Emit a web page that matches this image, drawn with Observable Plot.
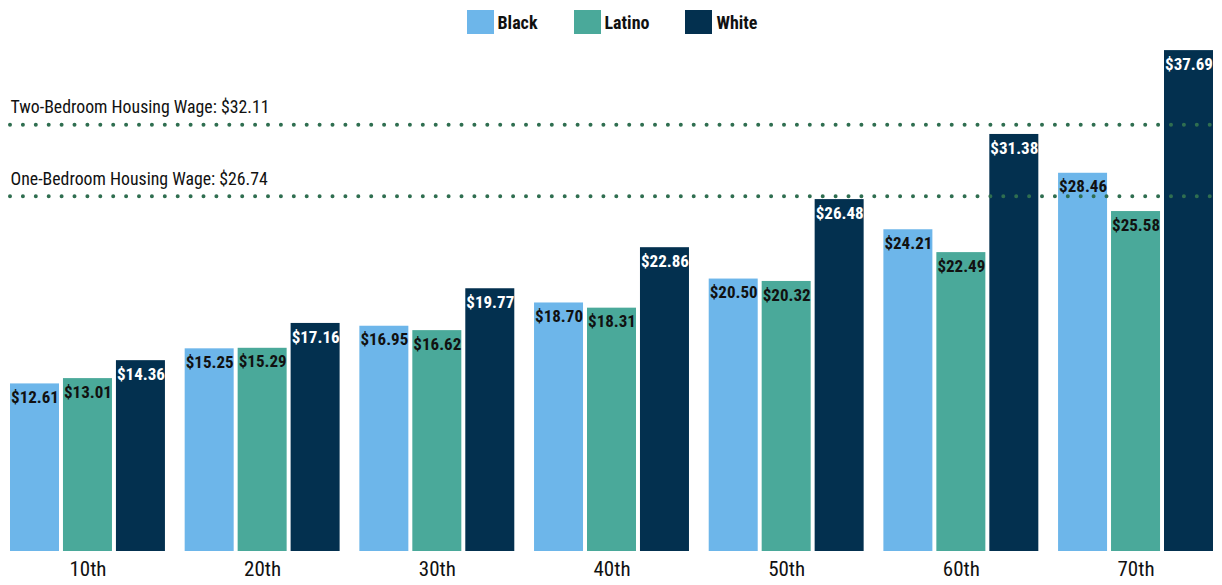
<!DOCTYPE html>
<html>
<head>
<meta charset="utf-8">
<script src="https://cdn.jsdelivr.net/npm/d3@7"></script>
<script src="https://cdn.jsdelivr.net/npm/@observablehq/plot@0.6"></script>
<style>
  body { margin: 0; background: #fff; font-family: "Roboto Condensed", Roboto, sans-serif; }
  #legend { height: 40px; display: flex; justify-content: center; align-items: center; gap: 36px; padding-left: 2px; box-sizing: border-box; padding-top: 4px; }
  .item { display: flex; align-items: center; gap: 4px; font-weight: bold; font-size: 18px; color: #111; }
  .sw { width: 27px; height: 24px; display: inline-block; }
  #wrap { position: relative; width: 1222px; height: 545px; }
  #wrap svg { position: absolute; left: 0; top: 0; }
</style>
</head>
<body>
<div id="legend"></div>
<div id="wrap"></div>
<script>
const groups = ["10th", "20th", "30th", "40th", "50th", "60th", "70th"];
const races = ["Black", "Latino", "White"];
const black  = [12.61, 15.25, 16.95, 18.70, 20.50, 24.21, 28.46];
const latino = [13.01, 15.29, 16.62, 18.31, 20.32, 22.49, 25.58];
const white  = [14.36, 17.16, 19.77, 22.86, 26.48, 31.38, 37.69];
const colors = ["#6db6ea", "#4aa99a", "#03304f"];
const housingWages = [32.11, 26.74];
const housingLabels = ["Two-Bedroom Housing Wage: $32.11", "One-Bedroom Housing Wage: $26.74"];

const series = [black, latino, white];
const data = [];
groups.forEach((g, i) => races.forEach((r, j) => data.push({group: g, race: r, value: series[j][i]})));
const refs = housingWages.map((v, i) => ({value: v, label: housingLabels[i]}));

const legend = document.getElementById("legend");
races.forEach((r, i) => {
  const it = document.createElement("div");
  it.className = "item";
  it.innerHTML = `<span class="sw" style="background:${colors[i]}"></span><span>${r}</span>`;
  legend.appendChild(it);
});

const fmt = v => "$" + v.toFixed(2);
const font = "Roboto Condensed, Roboto, sans-serif";
const common = {
  width: 1222, height: 545, marginTop: 0, marginBottom: 34, marginLeft: 10, marginRight: 9,
  y: {domain: [0, 38.45], axis: null}
};
const valueStyle = {fontWeight: "bold", fontSize: 17, lineAnchor: "top", dy: 7};

const chart = Plot.plot({
  ...common,
  style: {fontFamily: font, background: "white"},
  fx: {domain: groups, paddingInner: 0.113, paddingOuter: 0, round: false, label: null},
  x: {domain: races, paddingInner: 0.075, paddingOuter: 0, round: false, axis: null},
  color: {domain: races, range: colors},
  marks: [
    Plot.axisFx({anchor: "bottom", tickSize: 0, tickPadding: 10, fontSize: 21, label: null, fill: "#111"}),
    Plot.barY(data, {fx: "group", x: "race", y: "value", fill: "race"}),
    Plot.text(data.filter(d => d.race !== "White"), {fx: "group", x: "race", y: "value", text: d => fmt(d.value), fill: "#111", ...valueStyle}),
    Plot.text(data.filter(d => d.race === "White"), {fx: "group", x: "race", y: "value", text: d => fmt(d.value), fill: "white", ...valueStyle})
  ]
});

const overlay = Plot.plot({
  ...common,
  style: {fontFamily: font, background: "transparent"},
  marks: [
    Plot.ruleY(refs, {y: "value", stroke: "#2f6e50", strokeWidth: 4, strokeDasharray: "0 12.9", strokeLinecap: "round"}),
    Plot.text(refs, {y: "value", text: "label", frameAnchor: "left", textAnchor: "start", dy: -17, fontSize: 17.8, fill: "#111"})
  ]
});
const wrap = document.getElementById("wrap");
wrap.appendChild(chart);
wrap.appendChild(overlay);
</script>
</body>
</html>
